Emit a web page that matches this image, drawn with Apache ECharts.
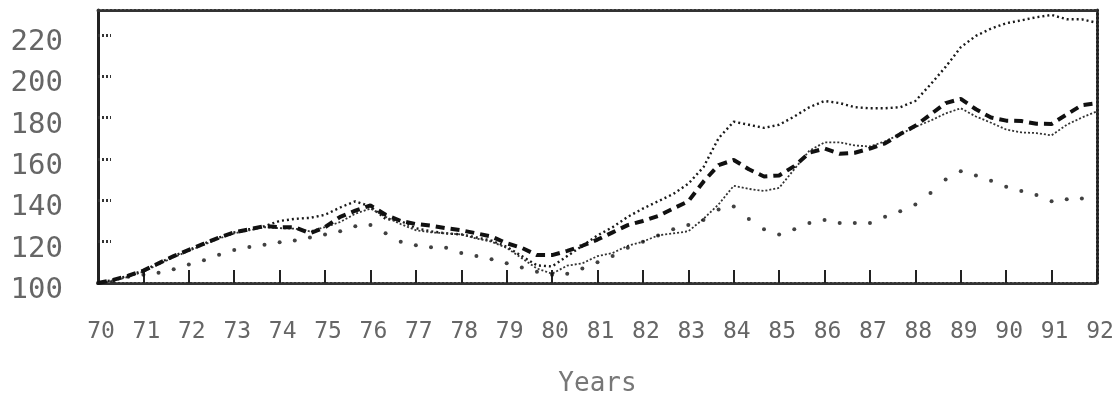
<!DOCTYPE html>
<html><head><meta charset="utf-8">
<script src="https://cdn.jsdelivr.net/npm/echarts@6/dist/echarts.min.js"></script>
<style>html,body{margin:0;padding:0;background:#fff}#c{width:1117px;height:402px}</style>
</head><body><div id="c"></div>
<script>
// Year tick labels (x axis)
const yearLabels = ['70','71','72','73','74','75','76','77','78','79','80','81','82','83','84','85','86','87','88','89','90','91','92'];
// Y axis tick values
const yTicks = [100,120,140,160,180,200,220];
// Four-monthly readings (3 per year), 70 .. 92
const seriesA = [100,101.5,103.5,106,109.5,113,116,119,122,124.5,
  126,127.5,130,131,131.5,133,136.5,139.5,137,131,
  130,126.5,125,124,123.5,122,120.5,117.5,113,108.5,
  108,113,118,123,127,132,136,139.5,143,148,
  156,170,178,176.5,175,176.5,180.5,185,188,187,
  185,184.5,184.5,185,188,196,204.5,214,219.5,223,
  225.6,227,228.5,229.6,227.5,227.5,225.8];
const seriesB = [100,101.5,103.5,106,109.5,113,116,119,122,124.5,
  126,127.5,127,127,124,127,132,135,137.5,133,
  130,128.5,127.7,126.5,125.5,124,122.5,119.2,117,113.5,
  113.5,115.5,118,121,124.5,128,130,132.4,136,139.5,
  149,157,159.5,155,151.5,152,156.5,163,165,162.5,
  163,165,167.5,172,176,181.5,187,189,184,180,
  178.5,178.3,177,176.9,181.5,186,187];
const seriesC = [100,101,103,105.5,109,112.5,115.5,118.5,121.5,124,
  125.5,127,126.5,126.3,125,127,129.5,133.5,136,132,
  128.5,125.5,124.5,124,123.5,121.5,120,117,112,107,
  104.5,108.4,109.5,113,114.5,118,120,123,124,125,
  131,138,147,145.5,144.5,146,155,164,168,168,
  166.5,166,168.5,172,175.5,178.5,182,184.5,180.5,177.5,
  174.2,172.8,172.5,171.4,176.5,180,183];
const seriesD = [100,101,103,104,105,106.6,109,111,113.6,116,
  117.4,118.5,119.7,120.6,122,123.5,125,127.5,128,124,
  120,118.3,117.3,117,114.5,113,111.5,109.5,107.5,105.5,
  104,104.5,107,110,113,117,120,123,126,128,
  130.5,135.5,137,131,126,123.5,126,129,130.5,129,
  129,129,132,134.7,138,143.5,150,154,152,149.5,
  146.5,144.5,142.5,139.5,140.5,140.8,'-'];

// category list: each year followed by two sub-periods
const periods = [];
yearLabels.forEach((y, i) => {
  periods.push(y);
  if (i < yearLabels.length - 1) { periods.push(y + 'b'); periods.push(y + 'c'); }
});

const mono = 'DejaVu Sans Mono';
const chart = echarts.init(document.getElementById('c'), null, {renderer: 'canvas'});
chart.setOption({
  animation: false,
  backgroundColor: '#fff',
  grid: {left: 98, right: 20, top: 10, bottom: 111},
  xAxis: [{
    type: 'category', data: periods, boundaryGap: false, position: 'bottom',
    axisLine: {show: true, lineStyle: {color: '#333', width: 3, type: [2, 2]}},
    axisTick: {show: true, inside: true, length: 13, interval: 2, lineStyle: {color: '#222', width: 2}},
    axisLabel: {interval: 2, margin: 38, fontFamily: mono, fontSize: 23, color: '#666',
      padding: [0, 0, 0, 6],
      formatter: v => yearLabels.includes(v) ? v : ''},
    splitLine: {show: false},
    name: 'Years', nameLocation: 'middle', nameGap: 88,
    nameTextStyle: {fontFamily: mono, fontSize: 26, color: '#777'}
  }, {
    type: 'category', data: periods, boundaryGap: false, position: 'top',
    axisLine: {show: true, lineStyle: {color: '#333', width: 3, type: [2, 2]}},
    axisTick: {show: false}, axisLabel: {show: false}, splitLine: {show: false}
  }],
  yAxis: [{
    type: 'value', min: 100, max: 232, interval: 20, position: 'left',
    axisLine: {show: true, lineStyle: {color: '#222', width: 3}},
    axisTick: {show: true, inside: true, length: 13, lineStyle: {color: '#333', width: 3, type: [2, 2]}},
    axisLabel: {margin: 35, fontFamily: mono, fontSize: 29, color: '#666', verticalAlign: 'top',
      padding: [-7, 0, 0, 0],
      formatter: v => yTicks.includes(v) ? String(v) : ''},
    splitLine: {show: false}
  }, {
    type: 'value', min: 100, max: 232, interval: 20, position: 'right',
    axisLine: {show: true, lineStyle: {color: '#222', width: 3, type: [2, 2]}},
    axisTick: {show: false}, axisLabel: {show: false}, splitLine: {show: false}
  }],
  series: [
    {name: 'A', type: 'line', data: seriesA, symbol: 'none', z: 3,
      lineStyle: {color: '#1a1a1a', width: 2.4, type: [2, 3]}},
    {name: 'B', type: 'line', data: seriesB, symbol: 'none', z: 4,
      lineStyle: {color: '#111', width: 4, type: [9, 6]}},
    {name: 'C', type: 'line', data: seriesC, symbol: 'none', z: 3,
      lineStyle: {color: '#333', width: 1.8, type: [2, 2]}},
    {name: 'D', type: 'scatter', data: seriesD, symbol: 'circle', symbolSize: 4, z: 5,
      itemStyle: {color: '#111'}}
  ]
});
</script>
</body></html>
